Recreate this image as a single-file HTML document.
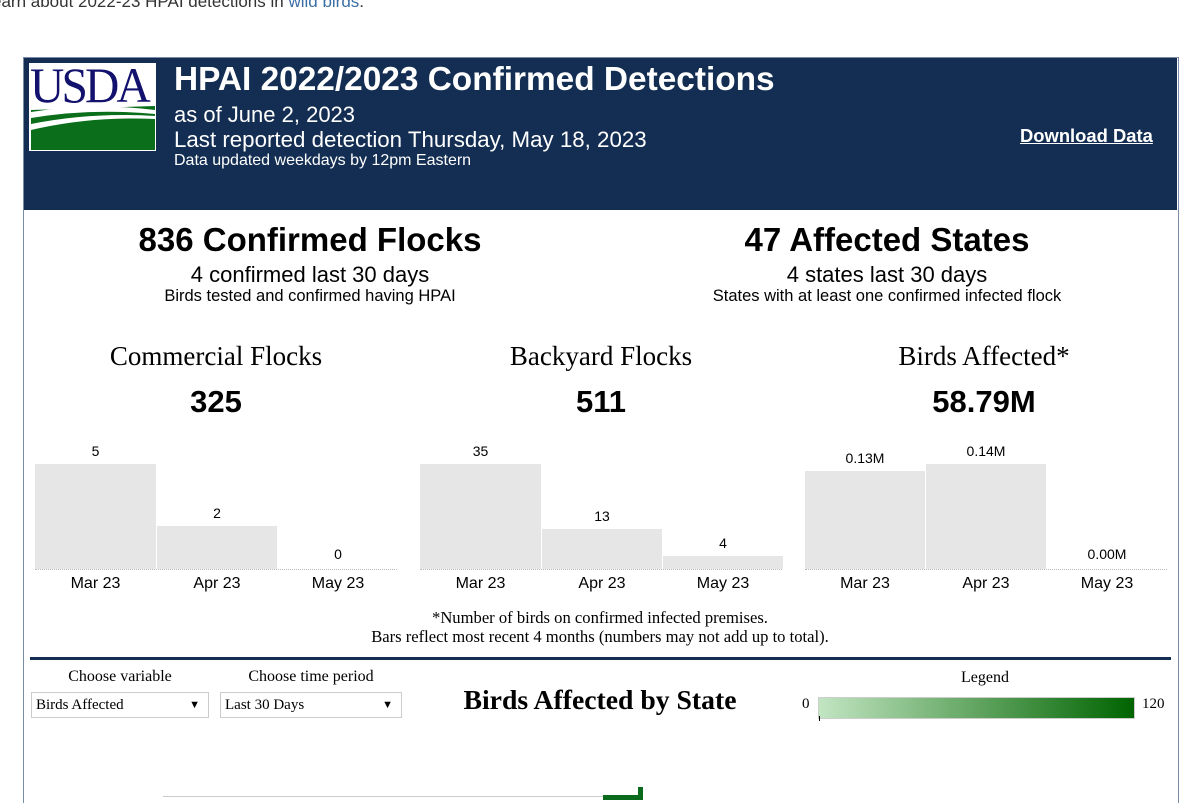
<!DOCTYPE html>
<html><head><style>
body{margin:0;width:1200px;height:800px;overflow:hidden;background:#fff;position:relative;font-family:"Liberation Sans",sans-serif;}
.a{position:absolute;white-space:nowrap;}
.c{text-align:center;}
.s{font-family:"Liberation Serif",serif;}
.bar{position:absolute;background:#e6e6e6;}
.bl{position:absolute;border-top:1px dotted #bbb;height:0;}
</style></head><body>
<div class="a" style="left:-8px;top:-8px;font-size:17px;color:#333">earn about 2022-23 HPAI detections in <span style="color:#3a6ea5">wild birds</span>.</div>
<div class="a" style="left:23px;top:57px;width:1154px;height:745px;border:1px solid #7a8ba8;border-bottom:none"></div>
<div class="a" style="left:24px;top:58px;width:1153px;height:152px;background:#132e52"></div>
<div class="a" style="left:29px;top:63px;width:127px;height:88px;background:#fff"></div>
<div class="a s" style="left:30px;top:56px;font-size:50px;color:#12116e;letter-spacing:-3px;transform:scaleX(.95);transform-origin:left">USDA</div>
<svg class="a" style="left:31px;top:104px" width="124" height="46"><path d="M0 6 L124 2 L124 46 L0 46 Z" fill="#0a6e1b"/><path d="M0 8 Q60 -2 124 6 L124 10 Q60 4 0 14Z" fill="#fff"/><path d="M0 20 Q60 8 124 12 L124 15 Q60 12 0 26Z" fill="#fff"/></svg>
<div class="a" style="left:174px;top:61px;font-size:33.4px;font-weight:bold;color:#fff">HPAI 2022/2023 Confirmed Detections</div>
<div class="a" style="left:174px;top:102px;font-size:22px;color:#fff">as of June 2, 2023</div>
<div class="a" style="left:174px;top:127px;font-size:22.3px;color:#fff">Last reported detection Thursday, May 18, 2023</div>
<div class="a" style="left:174px;top:152px;font-size:16px;color:#fff">Data updated weekdays by 12pm Eastern</div>
<div class="a" style="left:1020px;top:125px;font-size:18.4px;font-weight:bold;color:#fff;text-decoration:underline">Download Data</div>

<div class="a c" style="left:110px;width:400px;top:221px;font-size:33px;font-weight:bold">836 Confirmed Flocks</div>
<div class="a c" style="left:110px;width:400px;top:262px;font-size:22px">4 confirmed last 30 days</div>
<div class="a c" style="left:110px;width:400px;top:287px;font-size:16.5px">Birds tested and confirmed having HPAI</div>
<div class="a c" style="left:687px;width:400px;top:221px;font-size:33px;font-weight:bold">47 Affected States</div>
<div class="a c" style="left:687px;width:400px;top:262px;font-size:22px">4 states last 30 days</div>
<div class="a c" style="left:687px;width:400px;top:287px;font-size:16.5px">States with at least one confirmed infected flock</div>

<div class="a c s" style="left:66px;width:300px;top:341px;font-size:27px">Commercial Flocks</div>
<div class="a c" style="left:66px;width:300px;top:384px;font-size:31px;font-weight:bold">325</div>
<div class="a c s" style="left:451px;width:300px;top:341px;font-size:27px">Backyard Flocks</div>
<div class="a c" style="left:451px;width:300px;top:384px;font-size:31px;font-weight:bold">511</div>
<div class="a c s" style="left:834px;width:300px;top:341px;font-size:27px">Birds Affected*</div>
<div class="a c" style="left:834px;width:300px;top:384px;font-size:31px;font-weight:bold">58.79M</div>

<div class="bar" style="left:35px;top:464px;width:121px;height:105px"></div>
<div class="bar" style="left:157px;top:526px;width:120px;height:43px"></div>
<div class="bl" style="left:35px;top:569px;width:362px"></div>
<div class="bar" style="left:420px;top:464px;width:121px;height:105px"></div>
<div class="bar" style="left:542px;top:529px;width:120px;height:40px"></div>
<div class="bar" style="left:663px;top:556px;width:120px;height:13px"></div>
<div class="bl" style="left:420px;top:569px;width:362px"></div>
<div class="bar" style="left:805px;top:471px;width:120px;height:98px"></div>
<div class="bar" style="left:926px;top:464px;width:120px;height:105px"></div>
<div class="bl" style="left:805px;top:569px;width:362px"></div>

<div class="a c" style="left:35px;width:121px;top:443px;font-size:14px">5</div>
<div class="a c" style="left:157px;width:120px;top:505px;font-size:14px">2</div>
<div class="a c" style="left:278px;width:120px;top:546px;font-size:14px">0</div>
<div class="a c" style="left:420px;width:121px;top:443px;font-size:14px">35</div>
<div class="a c" style="left:542px;width:120px;top:508px;font-size:14px">13</div>
<div class="a c" style="left:663px;width:120px;top:535px;font-size:14px">4</div>
<div class="a c" style="left:805px;width:120px;top:450px;font-size:14px">0.13M</div>
<div class="a c" style="left:926px;width:120px;top:443px;font-size:14px">0.14M</div>
<div class="a c" style="left:1047px;width:120px;top:546px;font-size:14px">0.00M</div>

<div class="a c" style="left:35px;width:121px;top:575px;font-size:16px">Mar 23</div>
<div class="a c" style="left:157px;width:120px;top:575px;font-size:16px">Apr 23</div>
<div class="a c" style="left:278px;width:120px;top:575px;font-size:16px">May 23</div>
<div class="a c" style="left:420px;width:121px;top:575px;font-size:16px">Mar 23</div>
<div class="a c" style="left:542px;width:120px;top:575px;font-size:16px">Apr 23</div>
<div class="a c" style="left:663px;width:120px;top:575px;font-size:16px">May 23</div>
<div class="a c" style="left:805px;width:120px;top:575px;font-size:16px">Mar 23</div>
<div class="a c" style="left:926px;width:120px;top:575px;font-size:16px">Apr 23</div>
<div class="a c" style="left:1047px;width:120px;top:575px;font-size:16px">May 23</div>

<div class="a c s" style="left:300px;width:600px;top:608px;font-size:16.6px">*Number of birds on confirmed infected premises.</div>
<div class="a c s" style="left:300px;width:600px;top:627px;font-size:16.6px">Bars reflect most recent 4 months (numbers may not add up to total).</div>

<div class="a" style="left:30px;top:657px;width:1141px;height:3px;background:#132e52"></div>
<div class="a c s" style="left:31px;width:178px;top:668px;font-size:16px">Choose variable</div>
<div class="a c s" style="left:220px;width:182px;top:668px;font-size:16px">Choose time period</div>
<div class="a s" style="left:31px;top:692px;height:26px;border:1px solid #ccc;font-size:15px;line-height:24px;padding-left:4px;box-sizing:border-box;width:178px">Birds Affected<span style="position:absolute;right:8px;font-size:11px">▼</span></div>
<div class="a s" style="left:220px;top:692px;height:26px;border:1px solid #ccc;font-size:15px;line-height:24px;padding-left:4px;box-sizing:border-box;width:182px">Last 30 Days<span style="position:absolute;right:8px;font-size:11px">▼</span></div>
<div class="a c s" style="left:400px;width:400px;top:684px;font-size:27.7px;font-weight:bold">Birds Affected by State</div>
<div class="a c s" style="left:900px;width:170px;top:669px;font-size:16px">Legend</div>
<div class="a s" style="left:802px;top:696px;font-size:15px">0</div>
<div class="a" style="left:818px;top:697px;width:315px;height:20px;background:linear-gradient(to right,#c2e5c2,#006400);border:1px solid #ccc"></div>
<div class="a" style="left:819px;top:716px;width:1px;height:5px;background:#000"></div>
<div class="a s" style="left:1142px;top:696px;font-size:15px">120</div>

<div class="a" style="left:163px;top:796px;width:440px;height:4px;border-top:1px solid #ccc"></div>
<div class="a" style="left:603px;top:795px;width:40px;height:5px;background:#0b6b1c"></div>
<div class="a" style="left:638px;top:787px;width:5px;height:13px;background:#0b6b1c"></div>
</body></html>
